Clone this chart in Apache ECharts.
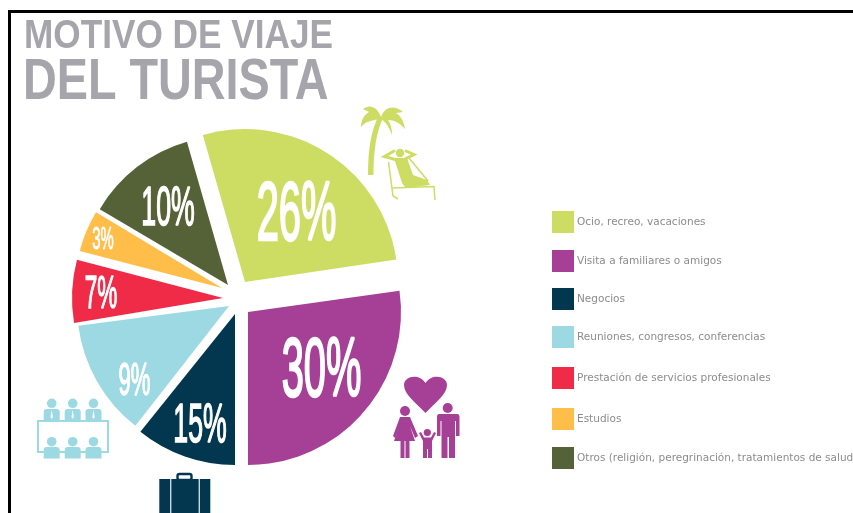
<!DOCTYPE html>
<html><head><meta charset="utf-8">
<style>html,body{margin:0;padding:0;background:#fff;overflow:hidden}#c{width:853px;height:513px}</style>
<script src="https://cdn.jsdelivr.net/npm/echarts@6/dist/echarts.min.js"></script>
</head><body><div id="c"></div>
<script>
// Data
const categories = ['Ocio, recreo, vacaciones','Visita a familiares o amigos','Negocios','Reuniones, congresos, conferencias','Prestación de servicios profesionales','Estudios','Otros (religión, peregrinación, tratamientos de salud'];
const percents = [26,30,15,9,7,3,10];
// The reference's wedges are not drawn to scale with their printed percentages: these are the drawn sweeps.
const sweepDegrees = [97.5,98,38.8,44.5,24.2,16.4,43.4];
const titleLines = ['MOTIVO DE VIAJE','DEL TURISTA'];

// Layout and style
const colors = ['#cddd64','#a63f96','#02374f','#9cd9e3','#ef2b47','#ffbd49','#556136'];
const startAngles = [106,8,-90,-128,-170.5,-194.6,-210.6];
const apexes = [[245,282],[248,312],[235,314],[229,306],[223,298],[222,288],[228,285]];
const radii = [153,153,151,152,151,147,149];
const labelPos = [[296.5,217,83],[321.5,373,83],[200,427,55.6],[134.5,382.5,46],[101,295,47],[103,240,31],[168,209.5,55.6]];
const legendTops = [211,250,288,326,367,408,447];
const legendTextTop = [6,6,6,6,0,4,2];

const series = categories.map((name,i)=>({
  type:'pie', silent:true, animation:false,
  center:apexes[i], radius:[0,radii[i]],
  startAngle:startAngles[i], endAngle:startAngles[i]-sweepDegrees[i],
  label:{show:false}, labelLine:{show:false},
  data:[{name,value:percents[i],itemStyle:{color:colors[i]}}]
}));
const legend = categories.map((name,i)=>({
  data:[name], left:552, top:legendTops[i], padding:0, orient:'vertical',
  itemWidth:22, itemHeight:22, icon:'rect', selectedMode:false, itemGap:0,
  textStyle:{color:'#8c8c8c',fontSize:10.5,fontFamily:'"DejaVu Sans"',padding:[legendTextTop[i],0,0,-2]}
}));

const P = (d,fill)=>({type:'path',shape:{pathData:d},style:{fill}});
const L = (d,stroke,w)=>({type:'path',shape:{pathData:d},style:{fill:'none',stroke,lineWidth:w}});
const C = (cx,cy,r,fill)=>({type:'circle',shape:{cx,cy,r},style:{fill}});
const R = (x,y,width,height,fill)=>({type:'rect',shape:{x,y,width,height},style:{fill}});
const g=colors[0], m=colors[1], n=colors[2], b=colors[3];

const icons = [
  // palm and lounger
  P('M368,175 C368,150 371,131 378,117 L383,118 C376,133 373.5,152 373.5,175 Z',g),
  P('M381,117 C377,106 369,104 363,109 L369,112 C364,115 361,120 361,127 C366,121 373,120 381,119 Z',g),
  P('M381,117 C385,106 395,105 403,112 L396,113 C401,116 404,122 405,129 C400,123 394,120 388,120 C391,124 392,129 392,135 C389,127 386,122 381,119 Z',g),
  C(400,153,4.2,g),
  L('M395,150.5 L384.5,156.5 L397,160 M405,150.5 L414,154.5 L403,160',g,3),
  P('M394,158 L407,158 L413,175 L427,180 L430,185 L413,187 L405,187 L402,183 Z',g),
  L('M388.5,162 L393,196 L398,199 M392,188 L434,186.5 L435,200 M409,158 L428,181',g,1.5),
  // family
  P('M425.5,413 C415,402 404,394 404,385 C404,376 419,373 425.5,383 C432,373 447,376 447,385 C447,394 436,402 425.5,413 Z',m),
  C(405,411,5,m),
  P('M400,417 L410,417 L418,436 L415,438 L410,426 L415,441 L409.5,441 L409.5,458 L405.5,458 L405.5,441 L404.5,441 L404.5,458 L400.5,458 L400.5,441 L394,441 L399.5,426 L395,438 L393,436 Z',m),
  C(447.7,408,5,m),
  P('M439,414 L457,414 Q459.5,414 459.5,417 L459.5,436 L456,436 L456,421 L455,421 L455,458 L449,458 L449,437 L447.5,437 L447.5,458 L441.5,458 L441.5,421 L440.5,421 L440.5,436 L437,436 L437,417 Q437,414 439,414 Z',m),
  C(427.3,432.5,3.6,m),
  P('M419,433 L421,432 L424,437.5 L431,437.5 L434,432 L436,433 L432,441 L432,458 L428,458 L428,449 L427,449 L427,458 L423,458 L423,441 Z',m),
  // meeting table
  ...[51.7,72.7,93.5].flatMap(x=>[
    C(x,403.3,4.8,b), {type:'rect',shape:{x:x-8,y:409,width:16,height:11,r:[3,3,0,0]},style:{fill:b}},
    P(`M${x},410 L${x+1.2},417 L${x},419 L${x-1.2},417 Z`,'#fff'),
    C(x,441.7,4.8,b), {type:'rect',shape:{x:x-8,y:447,width:16,height:11.5,r:[3,3,0,0]},style:{fill:b}}
  ]),
  {type:'rect',shape:{x:38,y:421,width:70,height:31},style:{fill:'none',stroke:b,lineWidth:2}},
  // suitcase
  R(159.3,479,51,34,n),
  R(170,479,1.4,34,'#c9d6dc'), R(198.6,479,1.4,34,'#c9d6dc'),
  {type:'rect',shape:{x:177.5,y:474,width:14,height:6,r:2},style:{fill:'none',stroke:n,lineWidth:2.4}}
];
series.push({type:'custom',coordinateSystem:'none',silent:true,animation:false,z:5,data:[[0]],
  renderItem:()=>({type:'group',children:icons})});

const chart = echarts.init(document.getElementById('c'));
chart.setOption({
  backgroundColor:'#fff', animation:false, legend, series,
  graphic:[
    {type:'rect',z:1,shape:{x:9.5,y:11.5,width:900,height:600},style:{fill:'none',stroke:'#000',lineWidth:3}},
    {type:'text',z:6,x:24,y:37,scaleX:0.88,style:{text:titleLines[0],fill:'#a5a5ab',font:'bold 40px "Liberation Sans"',verticalAlign:'middle'}},
    {type:'text',z:6,x:23,y:83,scaleX:0.82,style:{text:titleLines[1],fill:'#a5a5ab',font:'bold 57px "Liberation Sans"',verticalAlign:'middle'}},
    ...percents.map((p,i)=>({type:'text',z:6,x:labelPos[i][0],y:labelPos[i][1],scaleX:0.48,
      style:{text:p+'%',fill:'#fff',stroke:'#fff',lineWidth:labelPos[i][2]*0.03,align:'center',verticalAlign:'middle',font:`${labelPos[i][2]}px "Liberation Sans"`}}))
  ]
});
</script></body></html>
